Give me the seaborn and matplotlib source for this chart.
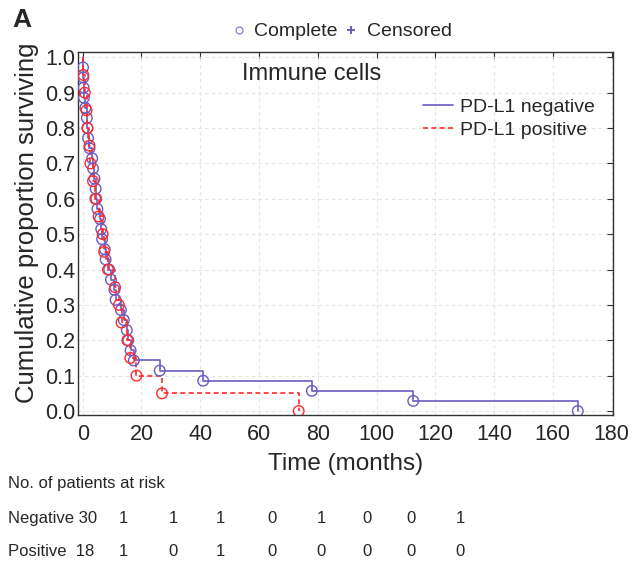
import numpy as np
import pandas as pd
import seaborn as sns
from matplotlib import pyplot as plt
from matplotlib.lines import Line2D

# event times (months); every event is "complete"
neg_times = [0.1, 0.2, 0.3, 0.4, 0.9, 1.4, 1.6, 1.8, 2.3, 3.2,
             3.5, 4.0, 4.4, 4.6, 5.0, 5.9, 6.3, 6.6, 7.5, 7.8,
             9.0, 9.6, 10.8, 11.2, 13.0, 14.0, 15.0, 15.5, 16.3, 17.4,
             26.2, 41.0, 78.0, 112.5, 168.5]
pos_times = [0.2, 0.7, 1.3, 1.6, 2.3, 2.6, 3.5, 4.3, 5.4, 6.8,
             7.3, 8.6, 11.0, 12.3, 13.2, 15.2, 16.2, 18.3, 27.0, 73.5]

groups = ["PD-L1 negative", "PD-L1 positive"]
risk_labels = ["Negative 30", "Positive  18"]
risk_neg = [1, 1, 1, 0, 1, 0, 0, 1]
risk_pos = [1, 0, 1, 0, 0, 0, 0, 0]

colors = {"PD-L1 negative": "#6b5bc2", "PD-L1 positive": "#ff2a2a"}
dashes = {"PD-L1 negative": "-", "PD-L1 positive": (0, (3, 2))}


def km_frame(times, name):
    n = len(times)
    surv = [1 - (k + 1) / n for k in range(n)]
    return pd.DataFrame({"time": times, "surv": surv, "group": name})


sns.set_style("white")
plt.rcParams["font.family"] = ["Liberation Sans", "DejaVu Sans"]

fig = plt.figure(figsize=(6.32, 5.65), dpi=100)
ax = fig.add_axes([0.123, 0.265, 0.847, 0.643])

for name, times in zip(groups, [neg_times, pos_times]):
    df = km_frame(times, name)
    steps = pd.concat([pd.DataFrame({"time": [0.0], "surv": [1.0], "group": [name]}), df])
    sns.lineplot(data=steps, x="time", y="surv", ax=ax, estimator=None, sort=False,
                 drawstyle="steps-post", color=colors[name], linestyle=dashes[name],
                 linewidth=1.2, label=name)
    sns.scatterplot(data=df, x="time", y="surv", ax=ax, marker="o", s=58,
                    facecolors="none", edgecolors=colors[name], linewidth=1.0,
                    zorder=3, legend=False)

ax.set_xlim(-1.7, 180.5)
ax.set_ylim(-0.012, 1.015)
ax.set_xticks(np.arange(0, 181, 20))
ax.set_yticks(np.arange(0, 1.01, 0.1))
ax.set_yticklabels([f"{v:.1f}" for v in np.arange(0, 1.01, 0.1)])
ax.tick_params(direction="in", top=True, right=True, length=4, labelsize=15.5,
               pad=2, color="#333333")
ax.tick_params(axis="x", pad=6)
ax.grid(True, color="#e4e4e4", linestyle=(0, (3, 3)), linewidth=0.8)
for sp in ax.spines.values():
    sp.set_color("#333333")
    sp.set_linewidth(1.0)

ax.set_xlabel("Time (months)", fontsize=17.5, labelpad=6)
ax.set_ylabel("Cumulative proportion surviving", fontsize=18.5)
ax.yaxis.set_label_coords(-0.072, 0.53)
ax.text(0.436, 0.94, "Immune cells", transform=ax.transAxes, ha="center",
        va="center", fontsize=17)

ax.legend(loc="upper right", bbox_to_anchor=(0.985, 0.90), frameon=False,
          fontsize=14, handlelength=1.5, handletextpad=0.4, labelspacing=0.3,
          borderpad=0)

# top legend for point types
top_handles = [
    Line2D([], [], marker="o", linestyle="none", markersize=5, markerfacecolor="none",
           markeredgecolor="#8a7ccc", markeredgewidth=0.9),
    Line2D([], [], marker="+", linestyle="none", markersize=6, color="#6b5bc2",
           markeredgewidth=1.4),
]
fig.legend(top_handles, ["Complete", "Censored"], loc="center",
           bbox_to_anchor=(0.54, 0.944), ncol=2, frameon=False, fontsize=14,
           handlelength=0.8, handletextpad=0.4, columnspacing=0.3)

fig.text(0.02, 0.965, "A", fontsize=19, fontweight="bold", va="center")

# patients at risk table
fig.text(0.013, 0.145, "No. of patients at risk", fontsize=12, va="center")
xs = [123, 173, 220, 272, 321, 367, 411, 460]
for row, (lab, vals) in enumerate(zip(risk_labels, [risk_neg, risk_pos])):
    y = 0.083 - row * 0.059
    fig.text(0.013, y, lab, fontsize=12, va="center")
    for x, v in zip(xs, vals):
        fig.text(x / 632, y, str(v), fontsize=12, va="center", ha="center")

fig.savefig("out.png", dpi=100)
